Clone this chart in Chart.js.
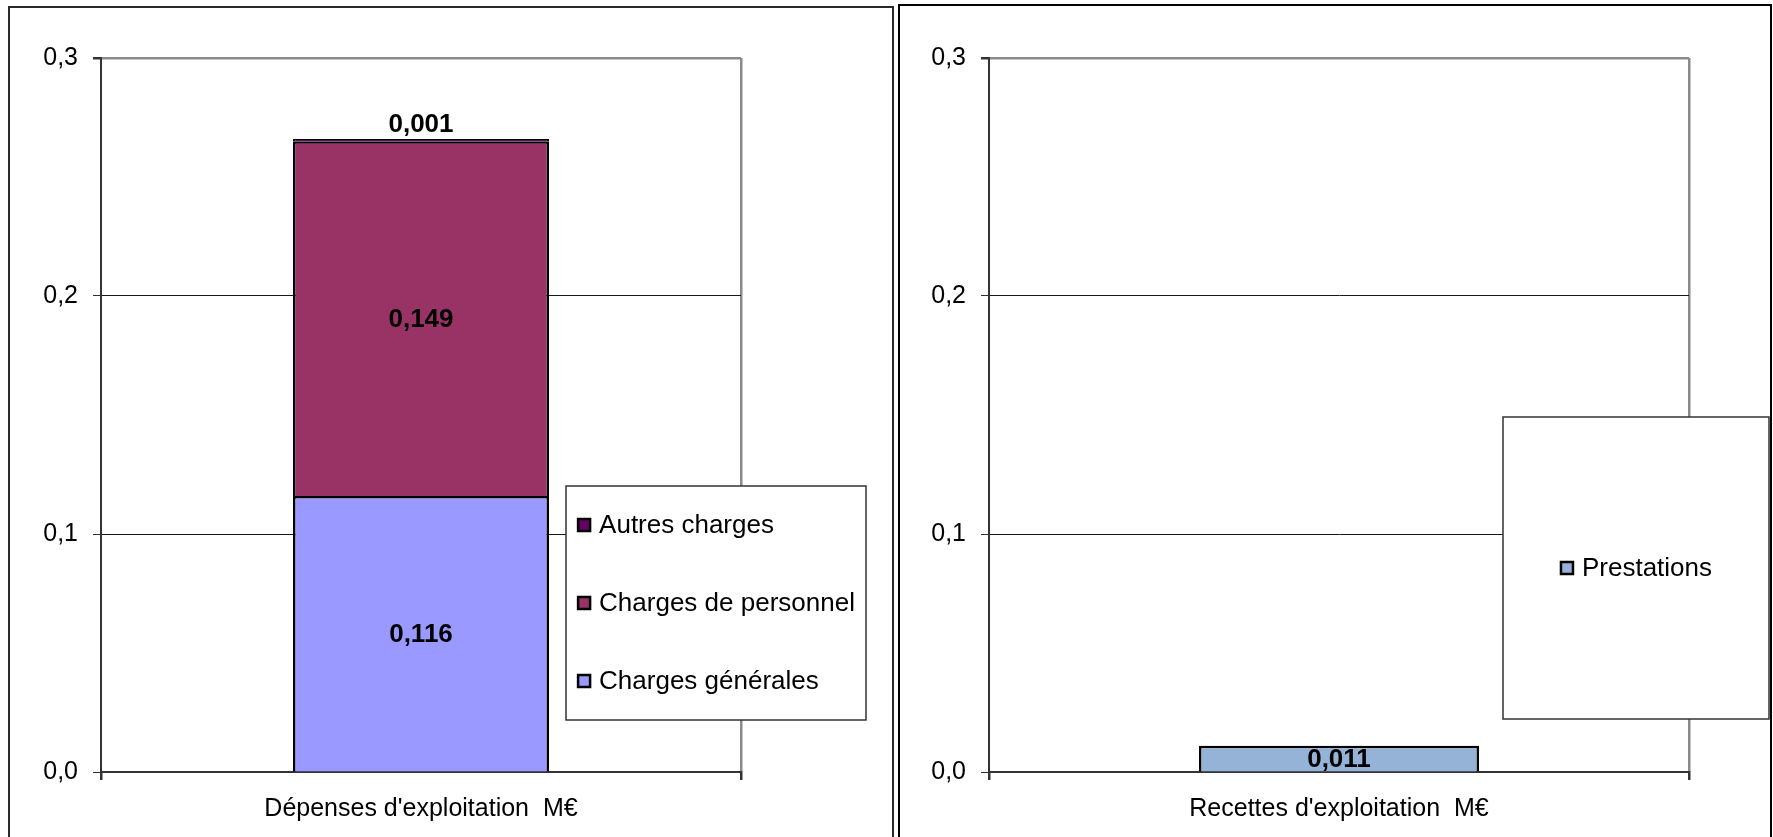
<!DOCTYPE html>
<html>
<head>
<meta charset="utf-8">
<script src="https://cdn.jsdelivr.net/npm/chart.js@4"></script>
<style>
    html, body { margin: 0; padding: 0; background: #fff; overflow: hidden; }
    body { width: 1773px; height: 837px; position: relative; }
    .panel { position: absolute; box-sizing: border-box; background: #fff; }
    #leftPanel { left: 8px; top: 6px; width: 886px; height: 900px; border: 2px solid #2a2a2a; }
    #rightPanel { left: 898px; top: 4px; width: 874px; height: 900px; border: 2px solid #000; }
    canvas { position: absolute; left: 0; top: 0; }
</style>
</head>
<body>
<div class="panel" id="leftPanel"><canvas id="depChart"></canvas></div>
<div class="panel" id="rightPanel"><canvas id="recChart"></canvas></div>
<script>
// data (M€)
const depCategories = ["Dépenses d'exploitation  M€"];
const chargesGenerales = [0.116];
const chargesPersonnel = [0.149];
const autresCharges = [0.001];

const recCategories = ["Recettes d'exploitation  M€"];
const prestations = [0.011];

const yTicks = [0, 0.1, 0.2, 0.3];

const FONT = "'Liberation Sans', Arial, sans-serif";

function fmt(v, digits) {
    return v.toFixed(digits).replace(".", ",");
}

// value labels centred in each segment, small segments get the label on top
const valueLabels = {
    id: "valueLabels",
    afterDatasetsDraw(chart) {
        const ctx = chart.ctx;
        ctx.save();
        ctx.font = "bold 26px " + FONT;
        ctx.fillStyle = "#000";
        ctx.textAlign = "center";
        ctx.textBaseline = "middle";
        chart.data.datasets.forEach((ds, i) => {
            const meta = chart.getDatasetMeta(i);
            meta.data.forEach((bar, j) => {
                const v = ds.data[j];
                const h = Math.abs(bar.base - bar.y);
                let y = (bar.y + bar.base) / 2;
                if (h < 20) y = bar.y - 15;
                ctx.fillText(fmt(v, 3), bar.x, y + 1);
            });
        });
        ctx.restore();
    }
};

// Excel style legend box sitting over the plot
const boxLegend = {
    id: "boxLegend",
    afterDraw(chart, args, opts) {
        const ctx = chart.ctx;
        const b = opts.box;
        const items = chart.data.datasets.slice().reverse();
        ctx.save();
        ctx.fillStyle = "#fff";
        ctx.fillRect(b.x, b.y, b.w, b.h);
        ctx.strokeStyle = "#333";
        ctx.lineWidth = 1.5;
        ctx.strokeRect(b.x, b.y, b.w, b.h);

        ctx.font = "26px " + FONT;
        ctx.textBaseline = "middle";
        ctx.textAlign = "left";
        const sw = 12, gap = 8;
        let maxW = 0;
        items.forEach(d => { maxW = Math.max(maxW, ctx.measureText(d.label).width); });
        const x0 = b.x + (b.w - (sw + 2 + gap + maxW)) / 2;
        const step = b.h / items.length;
        items.forEach((d, i) => {
            const cy = b.y + step * (i + 0.5);
            ctx.fillStyle = d.backgroundColor;
            ctx.fillRect(x0 + 1, cy - sw / 2, sw, sw);
            ctx.strokeStyle = "#000";
            ctx.lineWidth = 2.5;
            ctx.strokeRect(x0 + 1, cy - sw / 2, sw, sw);
            ctx.fillStyle = "#000";
            ctx.fillText(d.label, x0 + sw + 2 + gap, cy + 1);
        });
        ctx.restore();
    }
};

function makeOptions(cfg) {
    return {
        responsive: false,
        animation: false,
        layout: { padding: { left: 0, top: cfg.top, right: cfg.right, bottom: 0 } },
        plugins: {
            legend: { display: false },
            tooltip: { enabled: false },
            boxLegend: { box: cfg.box },
        },
        scales: {
            x: {
                stacked: true,
                offset: true,
                afterFit: (s) => { s.height = cfg.xHeight; },
                grid: {
                    offset: true,
                    drawOnChartArea: true,
                    color: (c) => c.index === 0 ? "rgba(0,0,0,0)" : "#8a8a8a",
                    lineWidth: 2.5,
                    tickColor: "#333",
                    tickLength: 8,
                },
                border: { color: "#333", width: 2 },
                ticks: {
                    color: "#000",
                    padding: 14,
                    font: { family: FONT, size: 25 },
                },
            },
            y: {
                stacked: true,
                min: 0,
                max: 0.3,
                afterFit: (s) => { s.width = cfg.yWidth; },
                afterBuildTicks: (s) => { s.ticks = yTicks.map(v => ({ value: v })); },
                grid: {
                    color: (c) => c.tick && c.tick.value >= 0.29 ? "#8a8a8a" : "#1a1a1a",
                    lineWidth: (c) => c.tick && c.tick.value >= 0.29 ? 2.5 : 1,
                    tickColor: "#333",
                    tickLength: 8,
                },
                border: { color: "#333", width: 2 },
                ticks: {
                    color: "#000",
                    padding: 15,
                    font: { family: FONT, size: 25 },
                    callback: (v) => fmt(v, 1),
                },
            },
        },
    };
}

function barStyle(color) {
    return {
        backgroundColor: color,
        borderColor: "#000",
        borderWidth: 2.5,
        barPercentage: 0.4,
        categoryPercentage: 1,
    };
}

const depCanvas = document.getElementById("depChart");
depCanvas.width = 882;
depCanvas.height = 829;

new Chart(depCanvas, {
    type: "bar",
    data: {
        labels: depCategories,
        datasets: [
            { label: "Charges générales", data: chargesGenerales, ...barStyle("#9999FF") },
            { label: "Charges de personnel", data: chargesPersonnel, ...barStyle("#993366") },
            { label: "Autres charges", data: autresCharges, ...barStyle("#660066") },
        ],
    },
    options: makeOptions({
        top: 50, right: 151, xHeight: 65, yWidth: 91,
        box: { x: 556, y: 478, w: 300, h: 234 },
    }),
    plugins: [valueLabels, boxLegend],
});

const recCanvas = document.getElementById("recChart");
recCanvas.width = 870;
recCanvas.height = 831;

new Chart(recCanvas, {
    type: "bar",
    data: {
        labels: recCategories,
        datasets: [
            { label: "Prestations", data: prestations, ...barStyle("#95B3D7") },
        ],
    },
    options: makeOptions({
        top: 52, right: 81, xHeight: 65, yWidth: 89,
        box: { x: 603, y: 411, w: 266, h: 302 },
    }),
    plugins: [valueLabels, boxLegend],
});
</script>
</body>
</html>
